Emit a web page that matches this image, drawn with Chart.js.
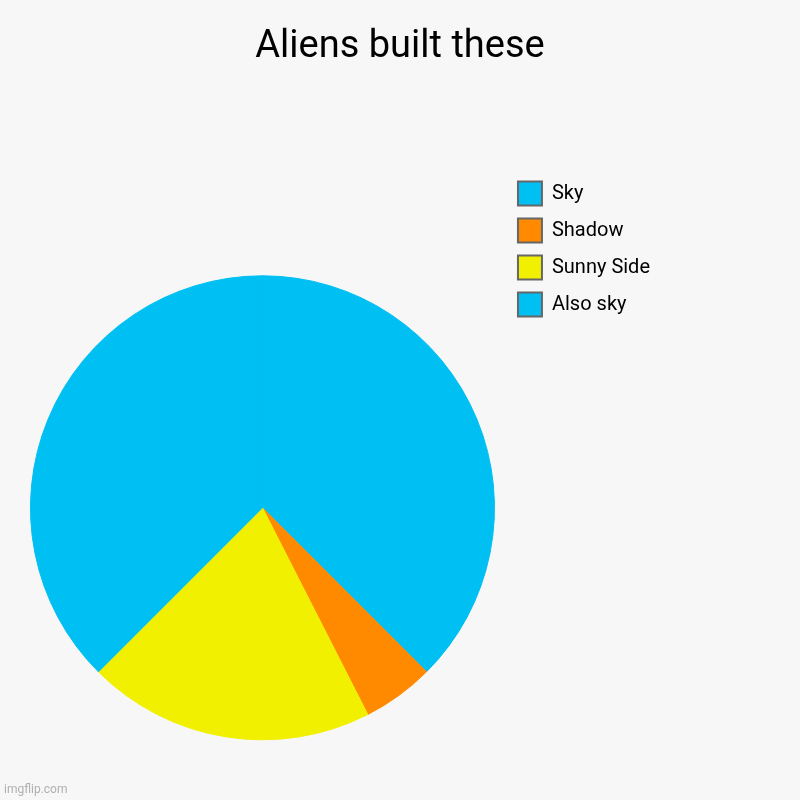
<!DOCTYPE html>
<html>
<head>
<meta charset="utf-8">
<script src="https://cdn.jsdelivr.net/npm/chart.js@4/dist/chart.umd.min.js"></script>
<style>
  html, body { margin: 0; padding: 0; background: #f7f7f7; }
  #wrap { position: relative; width: 800px; height: 800px; }
  #mark { position: absolute; left: 4px; bottom: 4px; font: 12px Roboto, sans-serif; color: #b0b0b0; }
</style>
</head>
<body>
<div id="wrap">
  <canvas id="pieChart" width="800" height="800"></canvas>
  <div id="mark">imgflip.com</div>
</div>
<script>
const labels = ['Sky', 'Shadow', 'Sunny Side', 'Also sky'];
const values = [37.5, 5, 20, 37.5];
const colors = ['#00bff3', '#ff8a00', '#f0f000', '#00bff3'];

// title spans the whole canvas, legend sits higher than the pie
const layoutFix = {
    id: 'layoutFix',
    afterLayout(chart) {
        chart.titleBlock.left = 0;
        chart.titleBlock.right = chart.width;
        chart.legend.top -= 47;
        chart.legend.bottom -= 47;
    }
};

document.addEventListener('DOMContentLoaded', () => {
    const ctx = document.getElementById('pieChart').getContext('2d');

    new Chart(ctx, {
        type: 'pie',
        data: {
            labels: labels,
            datasets: [{
                data: values,
                backgroundColor: colors,
                // same colour border hides the seam between the two blue slices
                borderColor: colors,
                borderWidth: 1,
                radius: 232
            }]
        },
        options: {
            responsive: false,
            animation: false,
            layout: {
                padding: { left: 20, right: 140, top: 0, bottom: 0 }
            },
            plugins: {
                title: {
                    display: true,
                    text: 'Aliens built these',
                    color: '#000',
                    font: { family: 'Roboto', size: 38, weight: 'normal' },
                    padding: { top: 25, bottom: 145 }
                },
                legend: {
                    position: 'right',
                    align: 'start',
                    fullSize: false,
                    labels: {
                        boxWidth: 24,
                        boxHeight: 24,
                        padding: 13,
                        color: '#111',
                        font: { family: 'Roboto', size: 20 },
                        generateLabels: (chart) => labels.map((text, i) => ({
                            text: text,
                            fillStyle: colors[i],
                            strokeStyle: '#666',
                            lineWidth: 2,
                            hidden: false,
                            index: i
                        }))
                    }
                },
                tooltip: { enabled: false }
            }
        },
        plugins: [layoutFix]
    });
});
</script>
</body>
</html>
